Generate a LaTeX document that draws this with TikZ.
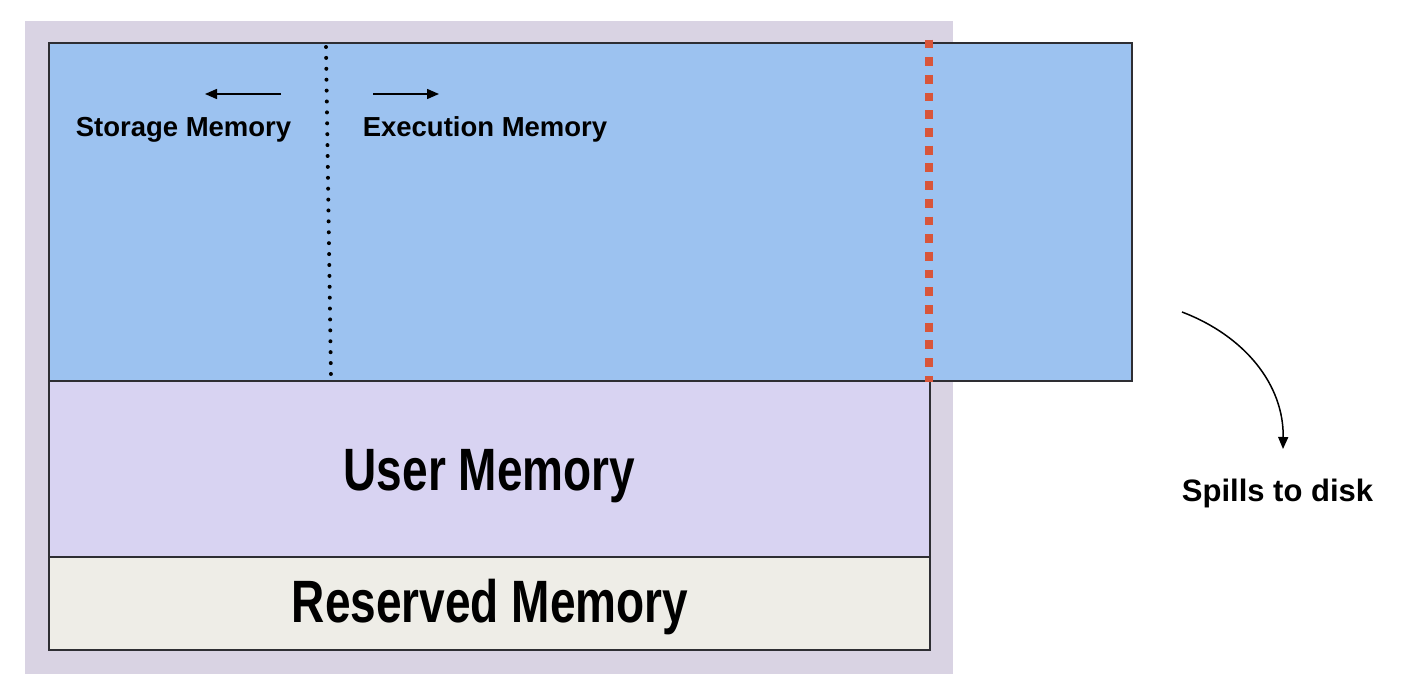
\documentclass[tikz,border=0pt]{standalone}
\usepackage{fontspec}
\setmainfont{Liberation Sans}
\usetikzlibrary{arrows.meta}
\definecolor{bgpurple}{HTML}{D9D3E3}
\definecolor{memblue}{HTML}{9CC2F0}
\definecolor{userlav}{HTML}{D8D3F2}
\definecolor{resvgray}{HTML}{EEEDE7}
\definecolor{spillred}{HTML}{D8553A}
\definecolor{edgegray}{HTML}{2E2E33}
\tikzset{
  region/.style={draw=edgegray, line width=1.3pt},
  smalllabel/.style={font=\bfseries\fontsize{27.5}{30}\selectfont, anchor=base, inner sep=0pt},
  biglabel/.style={font=\bfseries\fontsize{46}{48}\selectfont, anchor=base, inner sep=0pt, yscale=1.3},
  arr/.style={-{Triangle[length=12pt,width=10pt]}, line width=1.5pt},
}
\begin{document}
\begin{tikzpicture}[x=1pt,y=-1pt]
\useasboundingbox[fill=white] (0,0) rectangle (1414,696);
% background panel
\fill[bgpurple] (25,21) rectangle (953,674);
% user memory
\draw[region, fill=userlav] (49,381) rectangle (930,557);
% reserved memory
\draw[region, fill=resvgray] (49,557) rectangle (930,650);
% unified blue region
\draw[region, fill=memblue] (49,43) rectangle (1132,381);
% dotted storage/execution boundary
\coordinate (dtop) at (326,47);
\coordinate (dbot) at (331,379);
\draw[line width=4pt, line cap=round, dash pattern=on 0pt off 10.9pt] (dtop) -- (dbot);
% red spill boundary
\coordinate (rtop) at (929,39.5);
\coordinate (rbot) at (929,382);
\draw[spillred, line width=8.5pt, dash pattern=on 8.8pt off 8.9pt] (rtop) -- (rbot);
% labels
\node[smalllabel] (storage) at (183.5,136) {Storage Memory};
\node[smalllabel] (execution) at (485,136) {Execution Memory};
\coordinate (sa1) at (281,94);
\coordinate (sa2) at (205,94);
\coordinate (ea1) at (373,94);
\coordinate (ea2) at (439,94);
\draw[arr] (sa1) -- (sa2);
\draw[arr] (ea1) -- (ea2);
\node[biglabel] (user) at (489.5,490) {User Memory};
\node[biglabel] (reserved) at (490,622) {Reserved Memory};
% spill arrow
\coordinate (c1) at (1182,312);
\coordinate (c2) at (1283,449);
\draw[arr] (c1) .. controls (1245,336) and (1284,385) .. (c2);
\node[smalllabel, font=\bfseries\fontsize{31}{33}\selectfont] (spill) at (1277.5,501) {Spills to disk};
\end{tikzpicture}
\end{document}
